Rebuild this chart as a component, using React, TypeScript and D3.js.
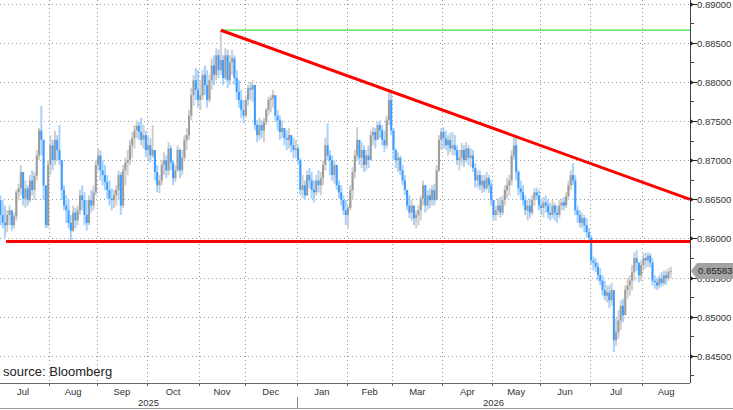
import React from 'react';
import * as d3 from 'd3';

// daily OHLC, EUR/GBP style quote, Jul 2025 -> Aug 2026 (open = previous close)
const firstOpen = 0.8662;
const closes = [
  0.8649, 0.8630, 0.8620, 0.8617, 0.8630, 0.8636, 0.8617, 0.8628, 0.8659, 0.8664, 0.8685, 0.8651, 0.8664, 0.8649, 0.8674, 0.8662, 0.8680, 0.8706, 0.8738, 0.8726, 0.8668, 0.8617, 0.8694,
  0.8719, 0.8700, 0.8726, 0.8713, 0.8700, 0.8662, 0.8642, 0.8636, 0.8620, 0.8610, 0.8633, 0.8623, 0.8636, 0.8655, 0.8649, 0.8630, 0.8620, 0.8649, 0.8642, 0.8659, 0.8694,
  0.8706, 0.8687, 0.8681, 0.8672, 0.8662, 0.8651, 0.8649, 0.8655, 0.8662, 0.8681, 0.8642, 0.8687, 0.8697, 0.8700, 0.8719, 0.8728, 0.8738, 0.8744, 0.8736, 0.8726, 0.8732, 0.8713,
  0.8719, 0.8706, 0.8713, 0.8685, 0.8668, 0.8674, 0.8694, 0.8700, 0.8687, 0.8715, 0.8697, 0.8677, 0.8687, 0.8713, 0.8687, 0.8703, 0.8726, 0.8732, 0.8757, 0.8783, 0.8802, 0.8790, 0.8777,
  0.8783, 0.8809, 0.8796, 0.8777, 0.8802, 0.8821, 0.8809, 0.8834, 0.8815, 0.8828, 0.8805, 0.8834, 0.8802, 0.8825, 0.8830, 0.8805, 0.8787, 0.8777, 0.8764, 0.8757,
  0.8777, 0.8792, 0.8790, 0.8796, 0.8745, 0.8732, 0.8745, 0.8738, 0.8749, 0.8764, 0.8777, 0.8779, 0.8783, 0.8757, 0.8751, 0.8736, 0.8741, 0.8728, 0.8726, 0.8732, 0.8719, 0.8713, 0.8715,
  0.8700, 0.8662, 0.8668, 0.8655, 0.8681, 0.8674, 0.8662, 0.8659, 0.8674, 0.8668, 0.8677, 0.8694, 0.8719, 0.8706, 0.8700, 0.8681, 0.8694, 0.8668, 0.8659, 0.8649, 0.8636, 0.8630,
  0.8639, 0.8662, 0.8685, 0.8706, 0.8726, 0.8703, 0.8713, 0.8694, 0.8706, 0.8700, 0.8732, 0.8736, 0.8726, 0.8745, 0.8738, 0.8726, 0.8719, 0.8751, 0.8777, 0.8738,
  0.8713, 0.8700, 0.8703, 0.8687, 0.8674, 0.8662, 0.8642, 0.8633, 0.8642, 0.8626, 0.8630, 0.8636, 0.8651, 0.8668, 0.8642, 0.8655, 0.8649, 0.8662, 0.8649, 0.8687, 0.8726, 0.8736,
  0.8728, 0.8719, 0.8726, 0.8715, 0.8719, 0.8713, 0.8700, 0.8703, 0.8713, 0.8700, 0.8715, 0.8703, 0.8706, 0.8690, 0.8674, 0.8681, 0.8668, 0.8674, 0.8664, 0.8677, 0.8668, 0.8649,
  0.8630, 0.8636, 0.8642, 0.8633, 0.8649, 0.8662, 0.8668, 0.8674, 0.8706, 0.8719, 0.8685, 0.8664, 0.8659, 0.8649, 0.8636, 0.8642, 0.8633, 0.8649, 0.8659, 0.8655, 0.8642,
  0.8639, 0.8646, 0.8642, 0.8633, 0.8630, 0.8642, 0.8633, 0.8630, 0.8642, 0.8646, 0.8642, 0.8654, 0.8668, 0.8681, 0.8674, 0.8636, 0.8630, 0.8620, 0.8626, 0.8617, 0.8608, 0.8601,
  0.8572, 0.8569, 0.8564, 0.8553, 0.8546, 0.8534, 0.8527, 0.8531, 0.8521, 0.8534, 0.8470, 0.8480, 0.8495, 0.8514, 0.8502, 0.8534, 0.8540, 0.8546, 0.8557, 0.8575, 0.8569, 0.8553, 0.8566,
  0.8575, 0.8572, 0.8578, 0.8569, 0.8546, 0.8544, 0.8540, 0.8549, 0.8543, 0.8553, 0.8549, 0.8557, 0.85583,
];
const highs = [
  0.8668, 0.8655, 0.8649, 0.8642, 0.8636, 0.8642, 0.8636, 0.8633, 0.8662, 0.8670, 0.8694, 0.8681, 0.8674, 0.8668, 0.8681, 0.8687, 0.8685, 0.8713, 0.8741, 0.8769, 0.8726, 0.8655, 0.8700,
  0.8732, 0.8726, 0.8738, 0.8732, 0.8745, 0.8700, 0.8668, 0.8655, 0.8649, 0.8630, 0.8642, 0.8639, 0.8642, 0.8662, 0.8668, 0.8659, 0.8649, 0.8655, 0.8662, 0.8668, 0.8700,
  0.8715, 0.8713, 0.8700, 0.8694, 0.8681, 0.8674, 0.8664, 0.8662, 0.8668, 0.8687, 0.8685, 0.8694, 0.8703, 0.8713, 0.8726, 0.8736, 0.8745, 0.8751, 0.8749, 0.8754, 0.8745, 0.8738,
  0.8732, 0.8728, 0.8745, 0.8713, 0.8694, 0.8681, 0.8700, 0.8710, 0.8706, 0.8723, 0.8719, 0.8700, 0.8694, 0.8719, 0.8715, 0.8713, 0.8732, 0.8741, 0.8764, 0.8792, 0.8809, 0.8818, 0.8815,
  0.8802, 0.8815, 0.8821, 0.8815, 0.8809, 0.8830, 0.8834, 0.8843, 0.8841, 0.8866, 0.8834, 0.8843, 0.8841, 0.8834, 0.8841, 0.8834, 0.8815, 0.8802, 0.8790, 0.8777,
  0.8783, 0.8796, 0.8800, 0.8802, 0.8796, 0.8751, 0.8754, 0.8751, 0.8754, 0.8767, 0.8781, 0.8783, 0.8790, 0.8783, 0.8764, 0.8757, 0.8751, 0.8741, 0.8738, 0.8741, 0.8732, 0.8728, 0.8726,
  0.8719, 0.8703, 0.8681, 0.8674, 0.8687, 0.8690, 0.8685, 0.8674, 0.8681, 0.8687, 0.8685, 0.8700, 0.8729, 0.8747, 0.8713, 0.8706, 0.8700, 0.8694, 0.8674, 0.8668, 0.8655, 0.8649,
  0.8642, 0.8668, 0.8691, 0.8713, 0.8742, 0.8726, 0.8723, 0.8719, 0.8713, 0.8719, 0.8738, 0.8742, 0.8741, 0.8749, 0.8751, 0.8745, 0.8738, 0.8757, 0.8787, 0.8790,
  0.8741, 0.8715, 0.8710, 0.8706, 0.8694, 0.8681, 0.8662, 0.8655, 0.8649, 0.8642, 0.8636, 0.8642, 0.8655, 0.8674, 0.8668, 0.8662, 0.8664, 0.8668, 0.8670, 0.8694, 0.8732, 0.8741,
  0.8742, 0.8738, 0.8732, 0.8735, 0.8736, 0.8732, 0.8719, 0.8713, 0.8722, 0.8719, 0.8723, 0.8719, 0.8715, 0.8713, 0.8696, 0.8687, 0.8687, 0.8681, 0.8681, 0.8685, 0.8681, 0.8674,
  0.8649, 0.8642, 0.8651, 0.8653, 0.8655, 0.8668, 0.8677, 0.8681, 0.8713, 0.8729, 0.8729, 0.8687, 0.8674, 0.8668, 0.8655, 0.8649, 0.8651, 0.8655, 0.8664, 0.8665, 0.8662,
  0.8651, 0.8653, 0.8655, 0.8649, 0.8645, 0.8649, 0.8645, 0.8642, 0.8649, 0.8651, 0.8653, 0.8659, 0.8674, 0.8687, 0.8696, 0.8681, 0.8642, 0.8636, 0.8633, 0.8630, 0.8626, 0.8613,
  0.8604, 0.8577, 0.8575, 0.8569, 0.8562, 0.8553, 0.8546, 0.8540, 0.8540, 0.8543, 0.8527, 0.8498, 0.8508, 0.8521, 0.8523, 0.8540, 0.8549, 0.8553, 0.8566, 0.8582, 0.8585, 0.8569, 0.8572,
  0.8581, 0.8582, 0.8582, 0.8581, 0.8575, 0.8553, 0.8550, 0.8553, 0.8557, 0.8559, 0.8559, 0.8562, 0.8564,
];
const lows = [
  0.8604, 0.8617, 0.8613, 0.8601, 0.8608, 0.8617, 0.8610, 0.8613, 0.8623, 0.8649, 0.8655, 0.8642, 0.8639, 0.8642, 0.8646, 0.8655, 0.8649, 0.8674, 0.8700, 0.8706, 0.8649, 0.8613, 0.8614,
  0.8681, 0.8687, 0.8694, 0.8700, 0.8694, 0.8649, 0.8636, 0.8620, 0.8613, 0.8598, 0.8608, 0.8613, 0.8617, 0.8630, 0.8636, 0.8617, 0.8610, 0.8617, 0.8633, 0.8636, 0.8655,
  0.8687, 0.8674, 0.8668, 0.8662, 0.8651, 0.8642, 0.8636, 0.8639, 0.8642, 0.8649, 0.8630, 0.8639, 0.8668, 0.8681, 0.8694, 0.8703, 0.8715, 0.8728, 0.8726, 0.8719, 0.8715, 0.8704,
  0.8700, 0.8697, 0.8703, 0.8674, 0.8659, 0.8658, 0.8668, 0.8681, 0.8677, 0.8681, 0.8687, 0.8668, 0.8672, 0.8685, 0.8677, 0.8681, 0.8700, 0.8713, 0.8726, 0.8751, 0.8770, 0.8777, 0.8767,
  0.8764, 0.8777, 0.8783, 0.8767, 0.8774, 0.8790, 0.8796, 0.8802, 0.8805, 0.8809, 0.8796, 0.8802, 0.8792, 0.8796, 0.8809, 0.8796, 0.8777, 0.8767, 0.8754, 0.8747,
  0.8754, 0.8770, 0.8777, 0.8774, 0.8738, 0.8723, 0.8726, 0.8728, 0.8723, 0.8745, 0.8757, 0.8761, 0.8767, 0.8749, 0.8738, 0.8726, 0.8728, 0.8719, 0.8713, 0.8715, 0.8710, 0.8703, 0.8703,
  0.8694, 0.8655, 0.8651, 0.8649, 0.8655, 0.8664, 0.8651, 0.8646, 0.8655, 0.8659, 0.8655, 0.8668, 0.8687, 0.8700, 0.8681, 0.8674, 0.8670, 0.8662, 0.8651, 0.8642, 0.8630, 0.8617,
  0.8614, 0.8636, 0.8649, 0.8677, 0.8700, 0.8694, 0.8690, 0.8685, 0.8687, 0.8690, 0.8703, 0.8719, 0.8715, 0.8726, 0.8728, 0.8719, 0.8710, 0.8715, 0.8745, 0.8732,
  0.8700, 0.8690, 0.8685, 0.8681, 0.8668, 0.8655, 0.8636, 0.8626, 0.8623, 0.8617, 0.8613, 0.8617, 0.8623, 0.8642, 0.8633, 0.8636, 0.8639, 0.8642, 0.8642, 0.8651, 0.8685, 0.8713,
  0.8715, 0.8713, 0.8706, 0.8710, 0.8706, 0.8706, 0.8694, 0.8687, 0.8694, 0.8691, 0.8697, 0.8694, 0.8691, 0.8685, 0.8665, 0.8665, 0.8662, 0.8658, 0.8659, 0.8662, 0.8658, 0.8642,
  0.8623, 0.8623, 0.8630, 0.8627, 0.8630, 0.8642, 0.8651, 0.8655, 0.8668, 0.8700, 0.8674, 0.8655, 0.8649, 0.8642, 0.8630, 0.8623, 0.8626, 0.8630, 0.8642, 0.8649, 0.8636,
  0.8630, 0.8627, 0.8633, 0.8626, 0.8623, 0.8626, 0.8623, 0.8620, 0.8626, 0.8636, 0.8636, 0.8639, 0.8649, 0.8662, 0.8668, 0.8630, 0.8620, 0.8614, 0.8613, 0.8608, 0.8601, 0.8595,
  0.8566, 0.8559, 0.8557, 0.8546, 0.8540, 0.8527, 0.8521, 0.8518, 0.8511, 0.8514, 0.8455, 0.8463, 0.8472, 0.8483, 0.8493, 0.8502, 0.8523, 0.8527, 0.8534, 0.8546, 0.8559, 0.8544, 0.8546,
  0.8559, 0.8562, 0.8564, 0.8563, 0.8540, 0.8536, 0.8534, 0.8536, 0.8538, 0.8540, 0.8541, 0.8546, 0.8549,
];

const lastPrice = 0.85583;
const peakLevel = 0.8866; // green line + start of the red trendline
const peakIndex = 98;
const trendEndLevel = 0.865;
const supportLevel = 0.8596;
const supportStartIndex = 4;

const yTicks = [0.845, 0.85, 0.855, 0.86, 0.865, 0.87, 0.875, 0.88, 0.885, 0.89];
const monthLabels = ['Jul', 'Aug', 'Sep', 'Oct', 'Nov', 'Dec', 'Jan', 'Feb', 'Mar', 'Apr', 'May', 'Jun', 'Jul', 'Aug'];
const yearLabels = ['2025', '2026'];

const W = 733;
const H = 410;
const plotRight = 690;
const plotBottom = 383;
const font = '"Liberation Sans", Arial, sans-serif';

// weekday calendar, Jul 1 2025 .. Aug 31 2026
const tradingDays = d3
  .timeDay.range(new Date(2025, 6, 1), new Date(2026, 8, 1))
  .filter((d) => d.getDay() !== 0 && d.getDay() !== 6);

export default function App() {
  const x = d3.scaleLinear().domain([0, tradingDays.length]).range([-3, plotRight]);
  const y = d3.scaleLinear().domain([0.84154, 0.89046]).range([plotBottom, 0]);

  const monthStarts: number[] = [];
  tradingDays.forEach((d, i) => {
    if (i === 0 || d.getMonth() !== tradingDays[i - 1].getMonth()) monthStarts.push(i);
  });
  const yearStart = tradingDays.findIndex((d) => d.getFullYear() === 2026);
  const xYear = x(yearStart);

  const minorTicks = yTicks.map((t) => t - 0.0025).concat([yTicks[yTicks.length - 1] + 0.0025]);
  const fmt = d3.format('.5f');

  const bars = closes.map((c, i) => {
    const o = i === 0 ? firstOpen : closes[i - 1];
    const h = Math.max(highs[i], o, c);
    const l = Math.min(lows[i], o, c);
    const up = c >= o;
    return { i, o, c, h, l, up };
  });

  const yLast = y(lastPrice);

  return (
    <svg width={W} height={H} style={{ position: 'absolute', left: 0, top: 0, background: '#fff' }}>
      <defs>
        <clipPath id="plot">
          <rect x={0} y={0} width={plotRight} height={plotBottom} />
        </clipPath>
      </defs>

      {/* grid */}
      <g stroke="#999" strokeWidth={1} strokeDasharray="1,3">
        {yTicks.map((t) => (
          <line key={t} x1={0} x2={plotRight} y1={Math.round(y(t)) + 0.5} y2={Math.round(y(t)) + 0.5} />
        ))}
        {monthStarts.slice(1).map((i) => (
          <line key={i} x1={Math.round(x(i)) + 0.5} x2={Math.round(x(i)) + 0.5} y1={0} y2={plotBottom} />
        ))}
      </g>

      {/* bars */}
      <g clipPath="url(#plot)">
        {bars.map((b) => {
          const cx = x(b.i + 0.5);
          const top = Math.min(y(b.o), y(b.c));
          const bh = Math.max(1, Math.abs(y(b.o) - y(b.c)));
          return (
            <g key={b.i}>
              <rect x={cx - 1} y={y(b.h)} width={2} height={y(b.l) - y(b.h)} fill={b.up ? '#cfcfcf' : '#a6d2ff'} />
              <rect x={cx - 1} y={top} width={2} height={bh} fill={b.up ? '#9c9c9c' : '#3f9cff'} />
            </g>
          );
        })}
      </g>

      {/* levels */}
      <line x1={x(peakIndex + 0.5)} x2={plotRight} y1={y(peakLevel)} y2={y(peakLevel)} stroke="#3ee03e" strokeWidth={1.3} />
      <line x1={x(peakIndex + 0.5)} x2={plotRight} y1={y(peakLevel)} y2={y(trendEndLevel)} stroke="#ff0000" strokeWidth={3} />
      <line x1={x(supportStartIndex)} x2={plotRight} y1={y(supportLevel)} y2={y(supportLevel)} stroke="#ff0000" strokeWidth={3} />

      {/* right axis */}
      <line x1={plotRight + 0.5} x2={plotRight + 0.5} y1={0} y2={plotBottom} stroke="#444" />
      {minorTicks.map((t) => (
        <line key={t} x1={plotRight} x2={plotRight + 4} y1={Math.round(y(t)) + 0.5} y2={Math.round(y(t)) + 0.5} stroke="#444" />
      ))}
      {yTicks.map((t) => {
        const yy = Math.round(y(t)) + 0.5;
        return (
          <g key={t}>
            <path d={`M${plotRight},${yy - 2.5}L${plotRight + 4},${yy}L${plotRight},${yy + 2.5}Z`} fill="#222" />
            <line x1={plotRight} x2={plotRight + 7} y1={yy} y2={yy} stroke="#222" />
            <text x={plotRight + 7} y={yy} dy="0.35em" fontFamily={font} fontSize={9.5} fill="#333">
              {fmt(t)}
            </text>
          </g>
        );
      })}

      {/* last price tag */}
      <path
        d={`M${plotRight + 1},${yLast}L${plotRight + 7},${yLast - 8}L${W},${yLast - 8}L${W},${yLast + 8}L${plotRight + 7},${yLast + 8}Z`}
        fill="#a3a3a3"
      />
      <text x={plotRight + 8} y={yLast} dy="0.35em" fontFamily={font} fontSize={9.5} fill="#222">
        {fmt(lastPrice)}
      </text>

      {/* bottom axis */}
      <line x1={0} x2={plotRight} y1={plotBottom + 0.5} y2={plotBottom + 0.5} stroke="#666" />
      {monthStarts.slice(1).map((i) => (
        <line key={i} x1={Math.round(x(i)) + 0.5} x2={Math.round(x(i)) + 0.5} y1={plotBottom} y2={plotBottom + 3} stroke="#666" />
      ))}
      {monthStarts.map((s, k) => {
        const e = k + 1 < monthStarts.length ? monthStarts[k + 1] : tradingDays.length;
        return (
          <text key={s} x={(x(s) + x(e)) / 2} y={392} dy="0.35em" textAnchor="middle" fontFamily={font} fontSize={9.5} fill="#333">
            {monthLabels[k]}
          </text>
        );
      })}
      <line x1={Math.round(xYear) + 0.5} x2={Math.round(xYear) + 0.5} y1={397} y2={408} stroke="#888" />
      <text x={xYear / 2} y={403} dy="0.35em" textAnchor="middle" fontFamily={font} fontSize={9.5} fill="#333">
        {yearLabels[0]}
      </text>
      <text x={(xYear + plotRight) / 2} y={403} dy="0.35em" textAnchor="middle" fontFamily={font} fontSize={9.5} fill="#333">
        {yearLabels[1]}
      </text>
      <line x1={0} x2={W} y1={408.5} y2={408.5} stroke="#999" />

      <text x={3} y={376} fontFamily={font} fontSize={13} fill="#222">
        source: Bloomberg
      </text>
    </svg>
  );
}
